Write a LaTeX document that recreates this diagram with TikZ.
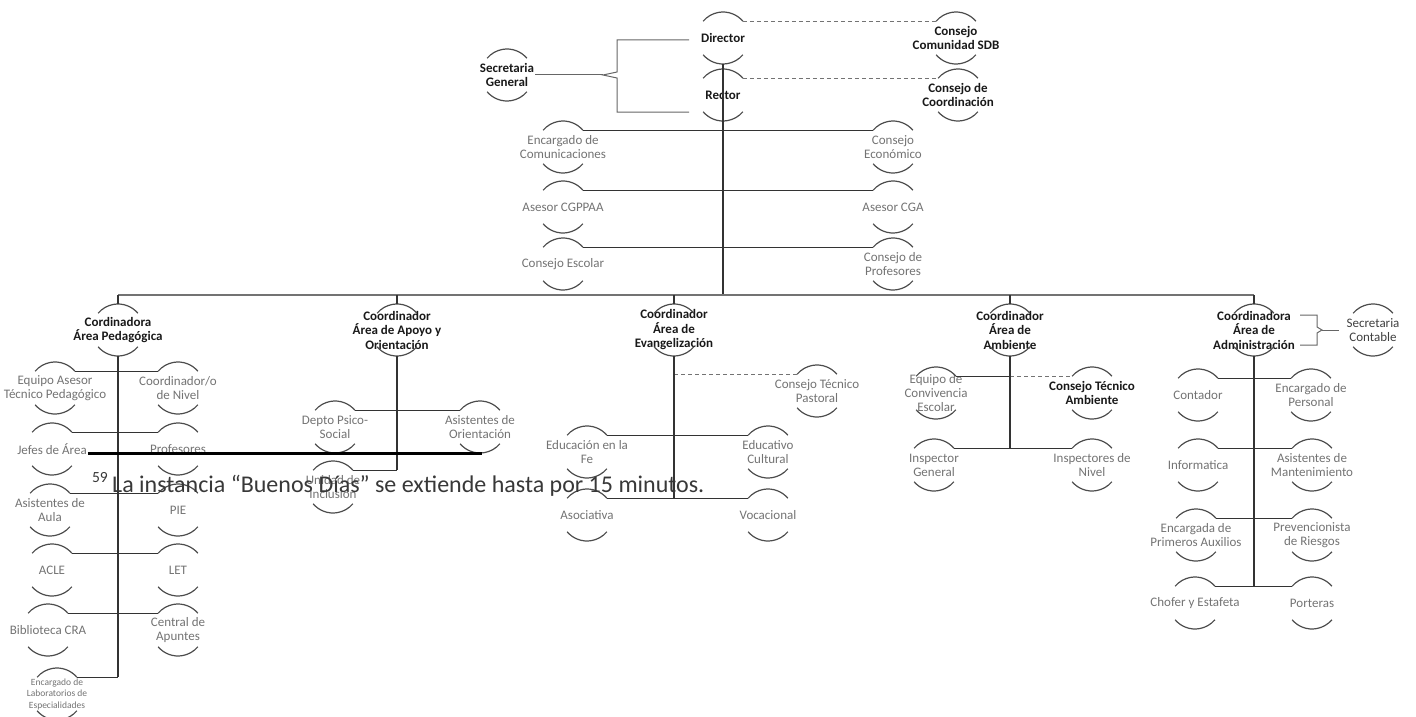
\documentclass[tikz,border=0pt]{standalone}
\usepackage{fontspec}
\setmainfont{Carlito}
\usepackage{tikz}

\tikzset{
  unit/.style={align=center, inner sep=1pt, text=black!55, font=\fontsize{13}{14}\selectfont},
  headunit/.style={unit, text=black!90, font=\fontsize{13}{14.5}\selectfont\bfseries},
  smallunit/.style={unit, font=\fontsize{9.5}{11.5}\selectfont},
  ring/.style={draw=black!70, line width=1.2pt},
  link/.style={draw=black!80, line width=1.4pt},
  mainbar/.style={draw=black!55, line width=2.6pt},
  dashlink/.style={draw=black!55, line width=1pt, dash pattern=on 4pt off 3pt},
  bracelink/.style={draw=black!60, line width=1pt}
}

\begin{document}
\begin{tikzpicture}[x=1pt, y=-1pt]
    \useasboundingbox (0,0) rectangle (1416,717);

    % Direccion
    \node[headunit] (dir) at (723,38) {Director};
    \node[headunit] (rec) at (723,95) {Rector};
    \node[headunit] (sgen) at (507,75) {Secretaria\\General};
    \node[headunit] (csdb) at (956,38) {Consejo\\Comunidad SDB};
    \node[headunit] (ccoo) at (958,95) {Consejo de\\Coordinación};
    \node[unit] (ecom) at (563,147) {Encargado de\\Comunicaciones};
    \node[unit] (ceco) at (893,147) {Consejo\\Económico};
    \node[unit] (acgp) at (563,207) {Asesor CGPPAA};
    \node[unit] (acga) at (893,207) {Asesor CGA};
    \node[unit] (cesc) at (563,264) {Consejo Escolar};
    \node[unit] (cpro) at (893,264) {Consejo de\\Profesores};

    % Coordinaciones
    \node[headunit] (ped) at (118,330) {Cordinadora\\Área Pedagógica};
    \node[headunit] (apo) at (397,330) {Coordinador\\Área de Apoyo y\\Orientación};
    \node[headunit] (eva) at (674,330) {Coordinador\\Área de\\Evangelización};
    \node[headunit] (amb) at (1010,330) {Coordinador\\Área de\\Ambiente};
    \node[headunit] (adm) at (1254,330) {Coordinadora\\Área de\\Administración};
    \node[unit, text=black!75] (sct) at (1373,330) {Secretaria\\Contable};

    % Area pedagogica
    \node[unit] (eqa) at (55,388) {Equipo Asesor\\Técnico Pedagógico};
    \node[unit] (cdn) at (178,388) {Coordinador/o\\de Nivel};
    \node[unit] (jef) at (52,449) {Jefes de Área};
    \node[unit] (pro) at (178,449) {Profesores};
    \node[unit] (asi) at (50,510) {Asistentes de\\Aula};
    \node[unit] (pie) at (178,510) {PIE};
    \node[unit] (acl) at (52,570) {ACLE};
    \node[unit] (let) at (178,570) {LET};
    \node[unit] (bib) at (48,630) {Biblioteca CRA};
    \node[unit] (cen) at (178,630) {Central de\\Apuntes};
    \node[smallunit] (lab) at (57,694) {Encargado de\\Laboratorios de\\Especialidades};

    % Area de apoyo
    \node[unit] (dep) at (335,427) {Depto Psico-\\Social};
    \node[unit] (ori) at (480,427) {Asistentes de\\Orientación};
    \node[unit] (uni) at (333,487) {Unidad de\\Inclusión};

    % Area de evangelizacion
    \node[unit] (ctp) at (817,391) {Consejo Técnico\\Pastoral};
    \node[unit] (fe) at (587,452) {Educación en la\\Fe};
    \node[unit] (cul) at (768,452) {Educativo\\Cultural};
    \node[unit] (asc) at (587,515) {Asociativa};
    \node[unit] (voc) at (768,515) {Vocacional};

    % Area de ambiente
    \node[unit] (ecv) at (936,393) {Equipo de\\Convivencia\\Escolar};
    \node[headunit] (cta) at (1092,393) {Consejo Técnico\\Ambiente};
    \node[unit] (ig) at (934,465) {Inspector\\General};
    \node[unit] (inn) at (1092,465) {Inspectores de\\Nivel};

    % Area de administracion
    \node[unit] (con) at (1198,395) {Contador};
    \node[unit] (per) at (1311,395) {Encargado de\\Personal};
    \node[unit] (inf) at (1198,465) {Informatica};
    \node[unit] (man) at (1312,465) {Asistentes de\\Mantenimiento};
    \node[unit] (aux) at (1196,535) {Encargada de\\Primeros Auxilios};
    \node[unit] (pre) at (1312,535) {Prevencionista\\de Riesgos};
    \node[unit] (cho) at (1195,603) {Chofer y Estafeta};
    \node[unit] (por) at (1312,603) {Porteras};

    % Arcs above and below every box
    \foreach \n in {dir,rec,sgen,csdb,ccoo,ecom,ceco,acgp,acga,cesc,cpro,
                    ped,apo,eva,amb,adm,sct,eqa,cdn,jef,pro,asi,pie,acl,let,bib,cen,lab,
                    dep,ori,uni,ctp,fe,cul,asc,voc,ecv,cta,ig,inn,
                    con,per,inf,man,aux,pre,cho,por} {
        \draw[ring] ([shift={(40:26pt)}]\n.center) arc[start angle=40, end angle=140, radius=26pt];
        \draw[ring] ([shift={(220:26pt)}]\n.center) arc[start angle=220, end angle=320, radius=26pt];
        \coordinate (\n-tl) at ([shift={(140:26pt)}]\n.center);
        \coordinate (\n-tr) at ([shift={(40:26pt)}]\n.center);
        \coordinate (\n-t) at ([shift={(90:26pt)}]\n.center);
        \coordinate (\n-b) at ([shift={(270:26pt)}]\n.center);
    }

    % Main line and bar
    \coordinate (bar) at (0,295);
    \draw[link] (dir-b) -- (dir-b |- bar);
    \draw[mainbar] (ped-t |- bar) -- (adm-t |- bar);
    \foreach \c in {ped,apo,eva,amb,adm}
        \draw[link] (\c-t |- bar) -- (\c-t);

    % Dashed councils
    \draw[dashlink] (dir-tr) -- (csdb-tl);
    \draw[dashlink] (rec-tr) -- (ccoo-tl);
    \draw[dashlink] (eva-b |- ctp-tl) -- (ctp-tl);
    \draw[dashlink] (ecv-tr -| amb-b) -- (cta-tl);

    % Braces
    \coordinate (sgtip) at (603,75);
    \draw[bracelink] (sgen.east) -- (sgtip);
    \draw[bracelink] (689,40) -| (617,72) -- (sgtip) -- (617,78) |- (689,112);
    \coordinate (sctip) at (1322,330);
    \draw[bracelink] (1300,315) -| (1317,327) -- (sctip) -- (1317,333) |- (1300,345);
    \draw[bracelink] (sctip) -- ([xshift=-6pt]sct.west);

    % Trunks
    \draw[link] (ped-b) -- (ped-b |- lab-tr);
    \draw[link] (lab-tr) -- (lab-tr -| ped-b);
    \draw[link] (apo-b) -- (apo-b |- uni-tr);
    \draw[link] (uni-tr) -- (uni-tr -| apo-b);
    \draw[link] (eva-b) -- (eva-b |- asc-tr);
    \draw[link] (amb-b) -- (amb-b |- ig-tr);
    \draw[link] (ecv-tr) -- (ecv-tr -| amb-b);
    \draw[link] (adm-b) -- (adm-b |- cho-tr);

    % Rows
    \foreach \a/\b in {ecom/ceco,acgp/acga,cesc/cpro,eqa/cdn,jef/pro,asi/pie,acl/let,bib/cen,
                       dep/ori,fe/cul,asc/voc,ig/inn,con/per,inf/man,aux/pre,cho/por}
        \draw[link] (\a-tr) -- (\b-tl);

    % Footnote over the chart
    \coordinate (ruleend) at (482,453);
    \draw[line width=3pt] (jef.east |- ruleend) -- (ruleend);
    \node[anchor=base west, inner sep=0pt, text=black!78, font=\fontsize{24}{24}\selectfont] (fn) at (112,492)
        {La instancia “Buenos Días” se extiende hasta por 15 minutos.};
    \node[anchor=base east, inner sep=0pt, text=black!78, font=\fontsize{15.5}{15.5}\selectfont] (fnum)
        at ([xshift=-4pt, yshift=10pt]fn.base west) {59};
\end{tikzpicture}
\end{document}
